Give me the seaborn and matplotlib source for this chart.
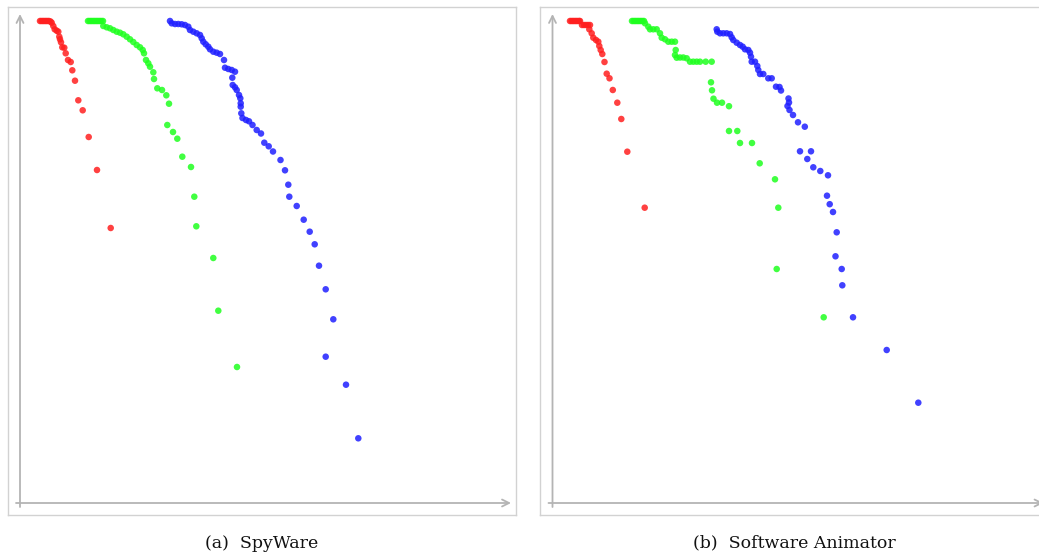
import matplotlib
matplotlib.use("Agg")
import matplotlib.pyplot as plt
import numpy as np
import pandas as pd
import seaborn as sns

sns.set_style("white")
plt.rcParams["font.family"] = ["DejaVu Serif", "Liberation Serif"]

# ---- (a) SpyWare ----
spy_red_x = [20, 21.5, 23, 24.5, 26, 27.5, 29, 30.5, 31.7, 33.3, 34.7, 36.7, 38.3, 39.3, 40, 41,
             42.3, 44.3, 45.7, 48, 50.7, 52.3, 55, 58.3, 62.7, 68.7, 77, 90.7]
spy_red_y = [482, 482, 482, 482, 482, 482, 482, 481.5, 480.3, 477, 473.7, 472.3, 471.3, 466.3, 463.7,
             460.7, 455.7, 455.3, 449.7, 443, 441, 432.7, 422.3, 402.7, 392.7, 366, 333, 275]

spy_green_x = [68, 69.5, 71, 72.5, 74, 75.5, 77, 78.5, 80, 81.5, 83, 83.3, 86.7, 90, 93.3, 96.7, 100,
               103.3, 106.7, 110, 113.3, 116.7, 120, 122.7, 124, 126, 128.3, 130, 133.3, 134, 137.3,
               142, 146.3, 149, 147.3, 153, 157.3, 162.3, 171, 174.3, 176.3, 193.3, 198.3, 217]
spy_green_y = [482, 482, 482, 482, 482, 482, 482, 482, 482, 482, 482, 477, 475.7, 474.7, 473, 471.3,
               470.3, 468.7, 466.3, 463.7, 461, 458, 455.7, 453, 449.7, 443, 439.7, 436.3, 430.7, 424,
               414.7, 413, 407.7, 399.3, 378, 371, 364.3, 346.3, 336, 306.3, 276.7, 245, 192.3, 136]

spy_blue_x = [150, 151.7, 155, 158.3, 161.7, 165, 168.3, 170, 173.3, 176.7, 180, 181.7, 183.3, 185.7,
              188.3, 190, 193.3, 196.7, 200, 204, 205, 208.3, 211.7, 215, 212.3, 212.7, 215, 216.7,
              219, 220.3, 220.7, 220.7, 221.3, 222.5, 226, 229, 232.5, 236.7, 241, 244.3, 248.7, 253,
              260.5, 265, 268.3, 269.3, 276.7, 283.7, 289.7, 294.7, 299, 305.7, 313.3, 305.7, 326,
              338.3]
spy_blue_y = [482, 479.7, 479, 479, 478.7, 478, 476.3, 473, 471.3, 469.7, 468, 464.7, 461.3, 458.7,
              456.3, 453.7, 451.3, 450.3, 449, 443, 435.3, 434, 433, 431.3, 425.3, 418, 415.7, 413,
              408, 404.7, 399.7, 396.3, 389.7, 385, 383, 381.7, 378, 373, 369.5, 360.3, 356.7, 351.5,
              343, 332.7, 318.3, 306.3, 297, 283.3, 271.3, 258.7, 237.3, 213.7, 183.7, 146.3, 118.3,
              64.7]

# ---- (b) Software Animator ----
anim_red_x = [17.5, 19, 20.5, 22, 23.5, 25, 26.5, 27.5, 29.5, 31.5, 33.5, 35.5, 37.5, 36.8, 39.2,
              40.8, 43.5, 45.8, 46.8, 48.2, 49.8, 52, 54.2, 57, 60.3, 64.8, 68.8, 74.8, 92.2]
anim_red_y = [482, 482, 482, 482, 482, 482, 482, 482, 478, 478, 478, 478, 478, 473.7, 469.7, 465.3,
              463, 461.3, 457, 453, 449, 441, 429.3, 424.7, 413, 400.3, 384, 351.3, 295.3]

anim_green_x = [79.5, 81, 82.5, 84, 85.5, 87, 88.5, 90, 91.5, 92.5, 95.8, 97.5, 100.8, 104.2, 107.5,
                109.2, 112.5, 115.8, 119.2, 122.5, 123.2, 122.5, 124.2, 127.5, 130.8, 134.2, 137.5,
                140.8, 144.2, 147.5, 153.2, 159.2, 158.5, 159.5, 161, 164.5, 169.5, 176.5, 176.5,
                184.8, 187.5, 199.5, 207.2, 222.5, 225.8, 224.2, 271.2]
anim_green_y = [482, 482, 482, 482, 482, 482, 482, 482, 482, 479.7, 476.3, 473.7, 473.7, 473.7,
                469.7, 465.3, 463.7, 461.3, 461.3, 461.3, 453, 448, 445.3, 445.5, 445.5, 444.7,
                441.3, 441.3, 441.3, 441.3, 441.3, 441.3, 420.7, 412.7, 404.3, 400.3, 400.3, 396.8,
                372, 372, 360, 360, 339.7, 323.7, 295.3, 234, 185.7]

anim_blue_x = [164.2, 164.8, 167.5, 170.8, 174.2, 177.5, 179.2, 180.8, 184.2, 187.5, 190.2, 192.5,
               195.8, 197.5, 198.5, 199.2, 202.5, 204.8, 205.8, 207.5, 210.8, 215.8, 219.2, 223.5,
               227, 228.5, 236, 236.5, 235, 237, 240.5, 245.5, 252.3, 247.5, 258.5, 254.8, 260.8,
               267.8, 275.5, 274.5, 277.2, 280.5, 284.2, 283, 289.2, 289.8, 300.5, 334.2, 365.8]
anim_blue_y = [473.7, 471.3, 469.7, 469.7, 469.7, 469, 465.7, 463, 460.3, 458, 456.3, 453.7, 453,
               450.3, 446.3, 441.3, 441.3, 437, 433, 429, 429, 424.7, 424.7, 416.3, 416, 412.5,
               404.5, 400.5, 397, 393, 388, 380.7, 376.3, 351.7, 351.7, 344, 335.7, 332, 327.7,
               307.3, 298.8, 291, 270.7, 246.7, 234, 217.7, 185.7, 153, 100.3]

captions = ["(a)  SpyWare", "(b)  Software Animator"]

palette = {"red": "#ff1f1f", "green": "#1fff1f", "blue": "#1f1fff"}


def panel_frame(series):
    rows = []
    for name, xs, ys in series:
        rows += [{"x": a, "y": b, "group": name} for a, b in zip(xs, ys)]
    return pd.DataFrame(rows)


panels = [
    panel_frame([("red", spy_red_x, spy_red_y),
                 ("green", spy_green_x, spy_green_y),
                 ("blue", spy_blue_x, spy_blue_y)]),
    panel_frame([("red", anim_red_x, anim_red_y),
                 ("green", anim_green_x, anim_green_y),
                 ("blue", anim_blue_x, anim_blue_y)]),
]

W, H = 1039, 555
fig = plt.figure(figsize=(W / 100, H / 100), dpi=100)

# frame boxes (left, top) in pixels; the second one runs past the right edge
frames = [(8, 7), (540, 7)]
box = 508
origin = [(20, 503), (552.5, 503)]

axis_col = "#b4b4b4"
for i, df in enumerate(panels):
    fx, fy = frames[i]
    ax = fig.add_axes([fx / W, (H - fy - box) / H, box / W, box / H])
    ox, oy = origin[i]
    ax.set_xlim(fx - ox, fx - ox + box)
    ax.set_ylim(oy - (fy + box), oy - fy)
    sns.scatterplot(data=df, x="x", y="y", hue="group", palette=palette, ax=ax,
                    s=22, linewidth=0, alpha=0.85, legend=False, zorder=3)
    ax.set_xticks([])
    ax.set_yticks([])
    ax.set_xlabel("")
    ax.set_ylabel("")
    for sp in ax.spines.values():
        sp.set_color("#d2d2d2")
        sp.set_linewidth(1.0)
    # coordinate axes with open arrow heads
    ax.annotate("", xy=(0, 489), xytext=(0, -4),
                arrowprops=dict(arrowstyle="->,head_length=0.5,head_width=0.25",
                                color=axis_col, lw=1.3, shrinkA=0, shrinkB=0))
    ax.annotate("", xy=(491, 0), xytext=(-4, 0),
                arrowprops=dict(arrowstyle="->,head_length=0.5,head_width=0.25",
                                color=axis_col, lw=1.3, shrinkA=0, shrinkB=0),
                annotation_clip=False)
    fig.text((fx + box / 2) / W, (H - 543) / H, captions[i],
             ha="center", va="center", fontsize=12.5, color="#111111")

fig.savefig("out.png", dpi=100)
